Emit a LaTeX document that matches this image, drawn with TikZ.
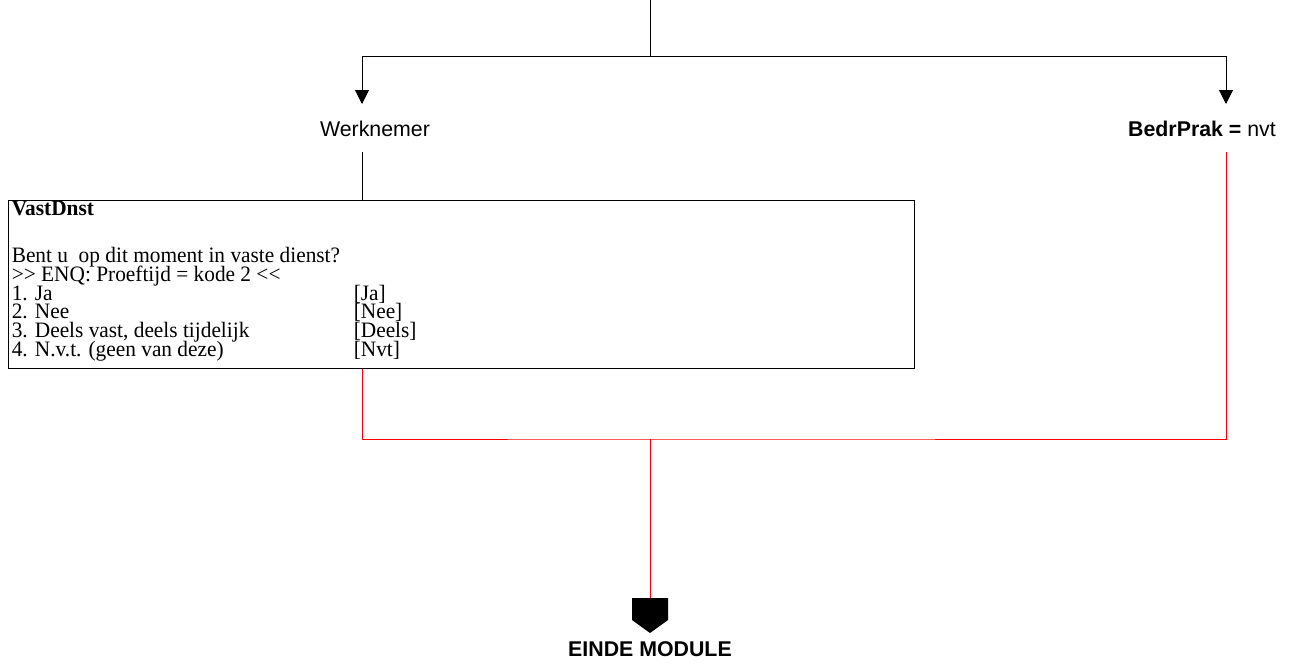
\documentclass[tikz,border=0pt]{standalone}
\usepackage{fontspec}
\setmainfont{Liberation Serif}
\setsansfont{Liberation Sans}
\newfontfamily\boxfont[FakeStretch=0.97]{Liberation Serif}
\usetikzlibrary{positioning}
\usetikzlibrary{calc}
\usetikzlibrary{arrows.meta}

\newcommand{\qrow}[2]{\makebox[256.5pt][l]{#1}#2}

\tikzset{
  flow/.style={draw=black, line width=0.75pt},
  rflow/.style={draw=red, line width=0.75pt},
  tipdown/.style={-{Triangle[width=10.5pt,length=10.5pt]}},
  lbl/.style={font=\sffamily\fontsize{16}{19}\selectfont, inner sep=0pt},
  qbox/.style={draw, line width=0.75pt, minimum width=679.5pt, minimum height=126pt, inner sep=0pt},
}

\begin{document}
\begin{tikzpicture}[x=0.75pt,y=-0.75pt]
\useasboundingbox (0,0) rectangle (1290,664);

% labels of the two branches
\node[lbl] (werk) at (375,129) {Werknemer};
\node[lbl] (bedr) at (1202,129) {\textbf{BedrPrak =} nvt};

\coordinate (top) at (650,0);
\coordinate (split) at (650,56);
\coordinate (werkin) at (362,104);
\coordinate (werkout) at (362,152);
\coordinate (bedrin) at (1226,104);
\coordinate (bedrout) at (1226,152);
\coordinate (join) at (650,439);
\coordinate (endtop) at (650,598);

% question box
\node[qbox] (vast) at (461,284) {};
\node[anchor=north west, inner sep=0pt, align=left,
  font={\boxfont\fontsize{16.5}{14}\selectfont\lineskiplimit=-20pt}]
  (vasttxt) at ($(vast.north west)+(4,1.5)$) {%
  \textbf{VastDnst}\\[21.25pt]
  Bent u\ \ op dit moment in vaste dienst?\\
  {>}{>} ENQ: Proeftijd = kode 2 {<}{<}\\
  \qrow{1. Ja}{[Ja]}\\
  \qrow{2. Nee}{[Nee]}\\
  \qrow{3. Deels vast, deels tijdelijk}{[Deels]}\\
  \qrow{4. N.v.t. (geen van deze)}{[Nvt]}};

% connectors
\draw[flow] (top) -- (split);
\draw[flow,tipdown] (split) -| (werkin);
\draw[flow,tipdown] (split) -| (bedrin);
\draw[flow] (werkout) -- (werkout |- vast.north);
\draw[rflow] (vast.south -| werkout) |- (join) -| (bedrout);
\draw[rflow] (join) -- (endtop);

% end of module
\fill (endtop) ++(-18,0) -- ++(36,0) -- ++(0,22) -- ++(-18,13) -- ++(-18,-13) -- cycle;
\node[lbl,font=\sffamily\bfseries\fontsize{16}{19}\selectfont] (einde) at (650,649) {EINDE MODULE};

\end{tikzpicture}
\end{document}
